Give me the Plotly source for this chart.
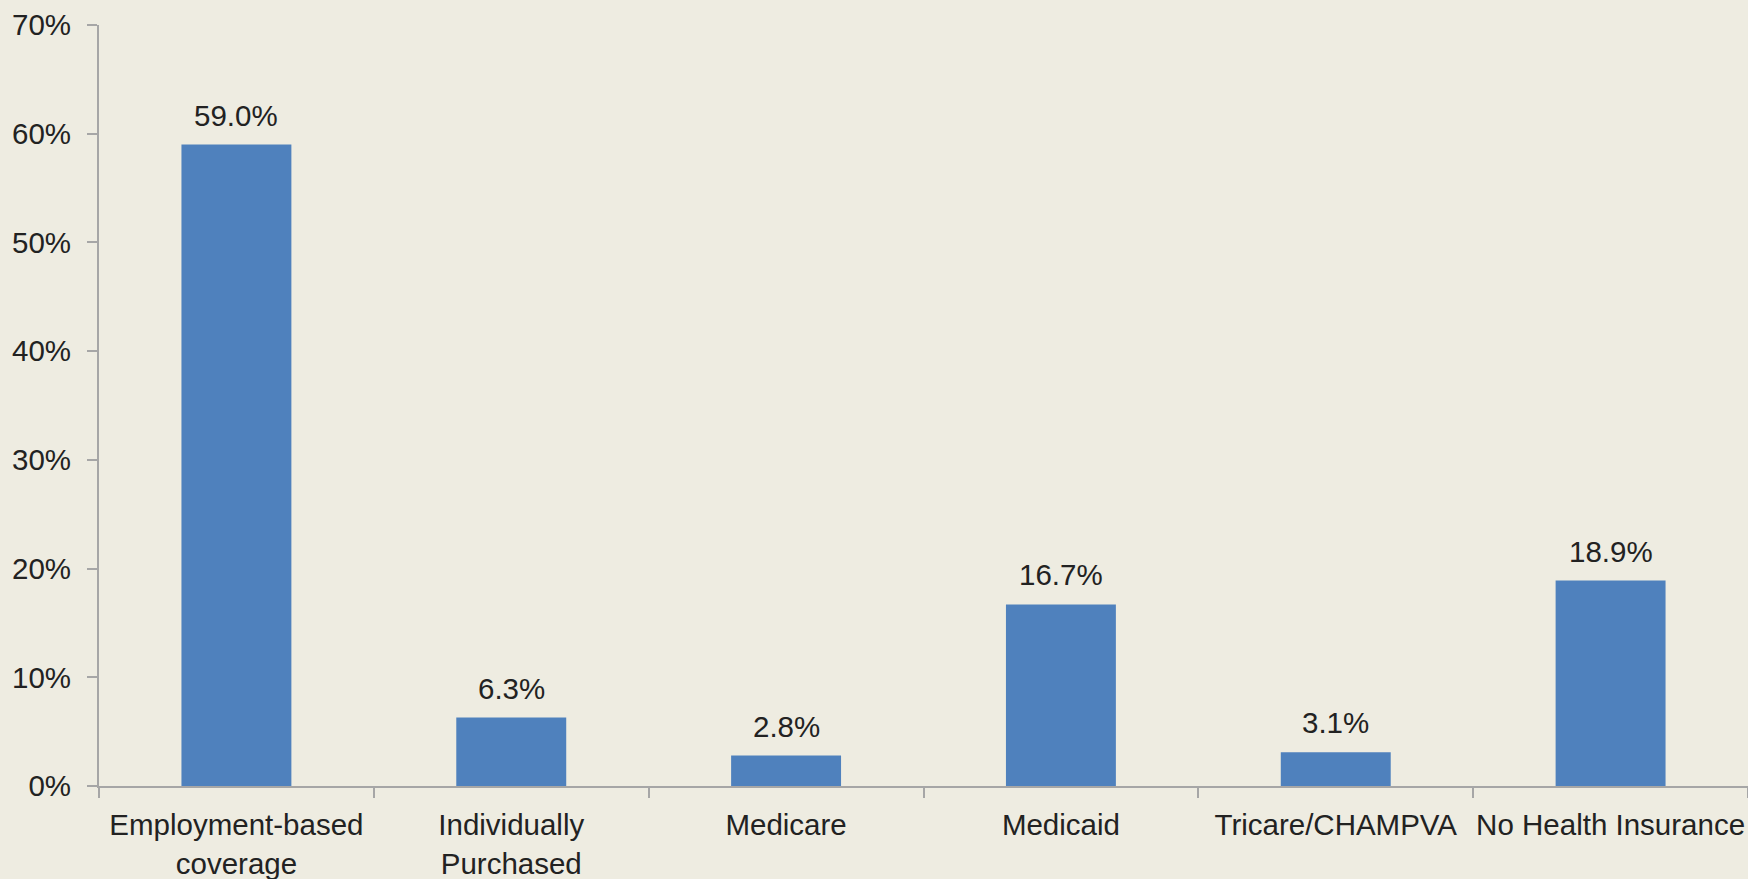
import plotly.graph_objects as go

categories = ["Employment-based<br>coverage", "Individually<br>Purchased", "Medicare",
              "Medicaid", "Tricare/CHAMPVA", "No Health Insurance"]
values = [59.0, 6.3, 2.8, 16.7, 3.1, 18.9]
y_ticks = [0, 10, 20, 30, 40, 50, 60, 70]
y_tick_labels = [f"{v}%" for v in y_ticks]

BG = "#EEECE1"
BAR = "#4F81BD"
TXT = "#222222"
AX = "#A6A6A6"
FONT = "Liberation Sans, Arial, sans-serif"
FS = 29.5

fig = go.Figure()
fig.add_trace(go.Bar(x=categories, y=values, marker=dict(color=BAR, line=dict(width=0)),
                     width=0.4, hoverinfo="skip"))

for c, v in zip(categories, values):
    fig.add_annotation(x=c, y=v, text=f"{v:.1f}%", showarrow=False, yanchor="bottom",
                       yshift=11, font=dict(size=FS, color=TXT, family=FONT))

fig.update_layout(
    width=1748, height=879,
    paper_bgcolor=BG, plot_bgcolor=BG,
    margin=dict(l=99, r=0, t=25, b=93, autoexpand=False),
    showlegend=False,
    font=dict(family=FONT, size=FS, color=TXT),
    bargap=0.6,
)
fig.update_xaxes(showline=True, linecolor=AX, linewidth=2, ticks="outside", tickson="boundaries",
                 ticklen=10, tickcolor=AX, tickwidth=2, showgrid=False, zeroline=False,
                 tickangle=0, automargin=False,
                 tickfont=dict(size=FS, color=TXT, family=FONT), ticklabelstandoff=12)
fig.update_yaxes(range=[0, 70], tickvals=y_ticks, ticktext=y_tick_labels, showline=True,
                 linecolor=AX, linewidth=2, ticks="outside", ticklen=10, tickcolor=AX, tickwidth=2,
                 showgrid=False, zeroline=False, automargin=False,
                 tickfont=dict(size=FS, color=TXT, family=FONT), ticklabelstandoff=10)

fig.write_html("out.html", config={"displayModeBar": False},
               post_script="document.body.style.margin='0';")
